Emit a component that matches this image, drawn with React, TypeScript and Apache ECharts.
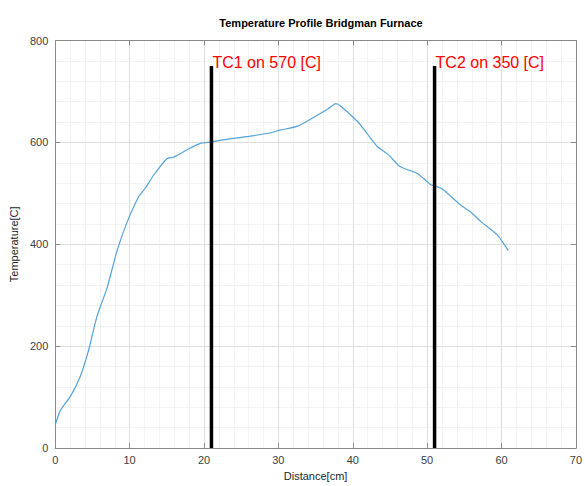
import React, { useEffect, useRef } from "react";
import * as echarts from "echarts";

const distance = [0, 0.7, 2.1, 3.4, 4.5, 5.6, 7.0, 8.3, 9.7, 11.2, 12.1, 13.2, 15.0, 15.9, 17.9, 19.5, 21, 23, 25, 27, 29, 30.2, 32.6, 34.6, 36.7, 37.7, 38.4, 40.7, 42.0, 43.3, 44.7, 46.3, 47.6, 48.7, 50.5, 51.2, 52.1, 54.5, 55.9, 57.2, 59.4, 60.9];
const temperature = [46, 74, 103, 142, 193, 258, 316, 387, 445, 493, 510, 535, 568, 571, 587, 598, 601, 606, 610, 614, 619, 624, 632, 648, 666, 676, 671, 640, 616, 592, 577, 553, 545, 539, 517, 514, 508, 477, 463, 445, 419, 388];
const tcPositions = [21, 51];
const tcLabels = ["TC1 on 570 [C]", "TC2 on 350 [C]"];
const tcTop = 750;

const FONT = "'Liberation Sans', Arial, Helvetica, sans-serif";

export default function App() {
  const ref = useRef<HTMLDivElement>(null);
  useEffect(() => {
    if (!ref.current) return;
    const chart = echarts.init(ref.current, undefined, { renderer: "svg" });
    const gridColor = "#dedede";
    const axisColor = "#8a8a8a";
    const labelColor = "#404040";
    const baseAxis = {
      axisLine: { show: true, onZero: false, lineStyle: { color: axisColor, width: 1 } },
      axisTick: { show: true, inside: true, length: 5, lineStyle: { color: axisColor } },
      minorTick: { show: false, splitNumber: 5 },
    };
    const tcSeries = tcPositions.map((x, i) => ({
      type: "line",
      xAxisIndex: 0,
      yAxisIndex: 0,
      data: [[x, 0], [x, tcTop]],
      symbol: "none",
      lineStyle: { color: "#000", width: 3.5 },
      endLabel: {
        show: true,
        formatter: tcLabels[i],
        color: "#ff0000",
        fontSize: 16,
        fontFamily: FONT,
        distance: 0,
        offset: [1, -3],
      },
      z: 3,
    }));
    chart.setOption({
      animation: false,
      title: {
        text: "Temperature Profile Bridgman Furnace",
        left: 316,
        textAlign: "center",
        top: 12,
        textStyle: { fontSize: 11, fontWeight: "bold", color: "#000", fontFamily: FONT },
      },
      grid: { left: 54.5, right: 8, top: 40.5, bottom: 32.5, containLabel: false },
      xAxis: [
        {
          ...baseAxis,
          type: "value",
          min: 0,
          max: 70,
          interval: 10,
          position: "bottom",
          name: "Distance[cm]",
          nameLocation: "middle",
          nameGap: 19,
          nameTextStyle: { fontSize: 11, color: "#262626", fontFamily: FONT },
          axisLabel: { fontSize: 11, color: labelColor, fontFamily: FONT, margin: 6 },
          splitLine: { show: true, lineStyle: { color: gridColor, width: 1 } },
          minorSplitLine: { show: true, lineStyle: { color: "#e6e6e6", width: 1, type: "dotted" } },
        },
        {
          ...baseAxis,
          type: "value",
          min: 0,
          max: 70,
          interval: 10,
          position: "top",
          axisLabel: { show: false },
          splitLine: { show: false },
        },
      ],
      yAxis: [
        {
          ...baseAxis,
          type: "value",
          min: 0,
          max: 800,
          interval: 200,
          position: "left",
          name: "Temperature[C]",
          nameLocation: "middle",
          nameGap: 33,
          nameTextStyle: { fontSize: 11, color: "#262626", fontFamily: FONT },
          axisLabel: { fontSize: 11, color: labelColor, fontFamily: FONT, margin: 7 },
          splitLine: { show: true, lineStyle: { color: gridColor, width: 1 } },
          minorSplitLine: { show: true, lineStyle: { color: "#e6e6e6", width: 1, type: "dotted" } },
        },
        {
          ...baseAxis,
          type: "value",
          min: 0,
          max: 800,
          interval: 200,
          position: "right",
          axisLabel: { show: false },
          splitLine: { show: false },
        },
      ],
      series: [
        {
          type: "line",
          xAxisIndex: 0,
          yAxisIndex: 0,
          data: distance.map((d, i) => [d, temperature[i]]),
          symbol: "none",
          smooth: 0.2,
          lineStyle: { color: "#55a3d8", width: 1.2 },
          z: 2,
        },
        ...tcSeries,
      ],
    });
    return () => chart.dispose();
  }, []);
  return <div ref={ref} style={{ width: 585, height: 486, position: "absolute", left: 0, top: 0 }} />;
}
